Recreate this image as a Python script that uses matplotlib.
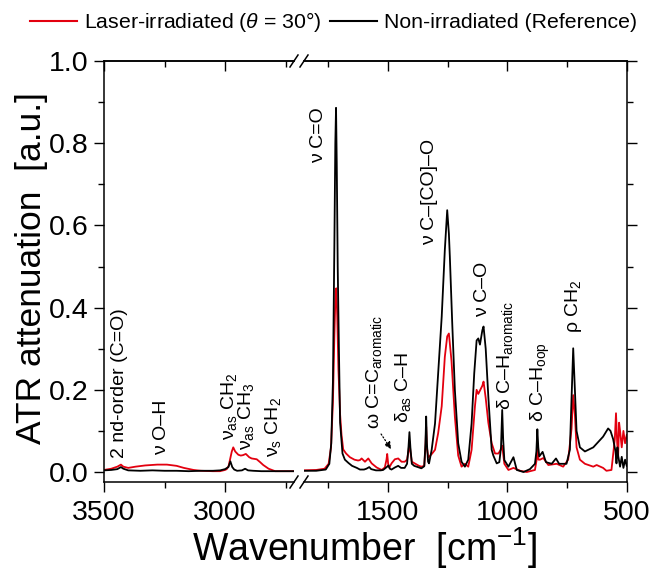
import numpy as np
import matplotlib.pyplot as plt
from matplotlib.lines import Line2D

plt.rcParams['font.family'] = ['Liberation Sans', 'DejaVu Sans']
plt.rcParams['mathtext.fontset'] = 'custom'
plt.rcParams['mathtext.rm'] = 'Liberation Sans'
plt.rcParams['mathtext.it'] = 'Liberation Sans:italic'

# reference (non-irradiated) spectrum
ref_wn = [3500, 3470, 3445, 3430, 3420, 3400, 3350, 3300, 3250, 3200, 3150, 3100, 3050,
          3020, 3000, 2986, 2978, 2970, 2962, 2950, 2930, 2917, 2905, 2884, 2850, 2800,
          2750, 2700,
          1860, 1800, 1760, 1745, 1737, 1730, 1724, 1720, 1717, 1714, 1710, 1705, 1700,
          1690, 1680, 1665, 1650, 1630, 1617, 1600, 1590, 1578, 1570, 1550, 1530, 1520,
          1505, 1498, 1492, 1485, 1471, 1457, 1445, 1430, 1420, 1414, 1410, 1406, 1400,
          1390, 1375, 1360, 1348, 1343, 1340, 1337, 1332, 1328, 1317, 1303, 1290, 1275,
          1262, 1252, 1245, 1241, 1231, 1220, 1206, 1192, 1178, 1164, 1150, 1139, 1129,
          1122, 1115, 1105, 1100, 1091, 1080, 1066, 1059, 1045, 1034, 1027, 1022, 1018,
          1013, 996, 975, 961, 933, 906, 885, 879, 875, 871, 867, 853, 839, 815, 797,
          784, 753, 739, 732, 725, 718, 711, 697, 676, 641, 600, 579, 569, 558, 548,
          544, 540, 537, 529, 522, 515, 508, 501]
ref_abs = [0.004, 0.005, 0.007, 0.012, 0.008, 0.004, 0.003, 0.004, 0.003, 0.003, 0.002, 0.003, 0.003,
           0.004, 0.007, 0.012, 0.026, 0.012, 0.006, 0.003, 0.004, 0.008, 0.004, 0.003, 0.002, 0.002,
           0.002, 0.002,
           0.003, 0.003, 0.006, 0.02, 0.07, 0.22, 0.55, 0.8, 0.886, 0.75, 0.5, 0.3, 0.12,
           0.045, 0.03, 0.022, 0.015, 0.01, 0.006, 0.006, 0.008, 0.012, 0.007, 0.004, 0.004, 0.005,
           0.012, 0.016, 0.008, 0.006, 0.011, 0.015, 0.01, 0.01, 0.02, 0.06, 0.097, 0.06, 0.02,
           0.015, 0.012, 0.009, 0.014, 0.07, 0.135, 0.07, 0.025, 0.021, 0.054, 0.118, 0.24, 0.378,
           0.54, 0.637, 0.58, 0.524, 0.362, 0.2, 0.07, 0.025, 0.013, 0.03, 0.118, 0.24, 0.32,
           0.325, 0.31, 0.345, 0.354, 0.3, 0.183, 0.054, 0.04, 0.021, 0.024, 0.06, 0.151, 0.08,
           0.029, 0.013, 0.036, 0.005, 0.0, 0.007, 0.02, 0.05, 0.104, 0.06, 0.038, 0.049, 0.024, 0.02, 0.033,
           0.02, 0.02, 0.054, 0.175, 0.301, 0.2, 0.1, 0.06, 0.05, 0.06, 0.086, 0.106, 0.1, 0.08, 0.05,
           0.021, 0.06, 0.04, 0.013, 0.037, 0.01, 0.03, 0.015]

# laser-irradiated spectrum
las_wn = [3500, 3470, 3445, 3430, 3420, 3400, 3370, 3330, 3280, 3240, 3200, 3170, 3130,
          3100, 3050, 3021, 3000, 2993, 2985, 2979, 2972, 2966, 2958, 2945, 2935, 2926,
          2914, 2900, 2890, 2869, 2855, 2842, 2820, 2793, 2750, 2700,
          1860, 1800, 1765, 1748, 1738, 1730, 1724, 1719, 1716, 1712, 1707, 1700, 1694,
          1687, 1675, 1659, 1640, 1625, 1617, 1610, 1596, 1582, 1568, 1547, 1526, 1513,
          1506, 1503, 1499, 1494, 1485, 1471, 1457, 1443, 1430, 1420, 1414, 1410, 1406,
          1400, 1385, 1370, 1360, 1348, 1343, 1340, 1337, 1331, 1315, 1303, 1290, 1275,
          1262, 1252, 1245, 1234, 1220, 1206, 1192, 1178, 1164, 1150, 1136, 1129, 1122,
          1105, 1100, 1091, 1080, 1066, 1052, 1038, 1026, 1022, 1017, 1013, 996, 975,
          947, 919, 885, 878, 875, 870, 864, 850, 829, 794, 767, 746, 732, 725, 718,
          711, 697, 676, 641, 627, 600, 586, 565, 551, 546, 541, 537, 533, 529, 522,
          515, 508, 501]
las_abs = [0.005, 0.008, 0.013, 0.018, 0.013, 0.01, 0.013, 0.016, 0.018, 0.018, 0.015, 0.01, 0.005,
           0.003, 0.002, 0.002, 0.005, 0.007, 0.015, 0.031, 0.05, 0.06, 0.05, 0.042, 0.04, 0.041,
           0.044, 0.036, 0.033, 0.031, 0.024, 0.017, 0.008, 0.002, 0.002, 0.002,
           0.004, 0.005, 0.008, 0.02, 0.06, 0.17, 0.33, 0.44, 0.447, 0.38, 0.25, 0.14, 0.09,
           0.055, 0.045, 0.036, 0.03, 0.028, 0.029, 0.033, 0.025, 0.033, 0.021, 0.011, 0.005, 0.011,
           0.03, 0.044, 0.02, 0.011, 0.021, 0.031, 0.033, 0.025, 0.025, 0.03, 0.05, 0.075, 0.05,
           0.025, 0.02, 0.015, 0.013, 0.015, 0.06, 0.11, 0.06, 0.035, 0.045, 0.054, 0.094, 0.16,
           0.28, 0.33, 0.337, 0.27, 0.135, 0.04, 0.013, 0.02, 0.013, 0.054, 0.16, 0.2, 0.19,
           0.21, 0.22, 0.18, 0.12, 0.07, 0.045, 0.045, 0.056, 0.064, 0.04, 0.02, 0.005, 0.01,
           0.003, 0.0, 0.005, 0.03, 0.056, 0.03, 0.03, 0.034, 0.017, 0.02, 0.013, 0.03, 0.105, 0.187, 0.14,
           0.06, 0.03, 0.02, 0.013, 0.017, 0.01, 0.003, 0.005, 0.08, 0.143, 0.07, 0.04, 0.12, 0.1, 0.06,
           0.1, 0.07, 0.09]

# band labels: text, wavenumber, bottom of label (a.u.)
band_text = ['2 nd-order (C=O)', 'ν O–H', r'ν$_\mathregular{as}$ CH$_\mathregular{2}$',
             r'ν$_\mathregular{as}$ CH$_\mathregular{3}$', r'ν$_\mathregular{s}$ CH$_\mathregular{2}$',
             'ν C=O', r'ω C=C$_\mathregular{aromatic}$', r'δ$_\mathregular{as}$ C–H',
             'ν C–[CO]–O', 'ν C–O', r'δ C–H$_\mathregular{aromatic}$',
             r'δ C–H$_\mathregular{oop}$', r'ρ CH$_\mathregular{2}$']
band_wn = [3434, 3264, 2985, 2912, 2800, 1789, 1560, 1438, 1324, 1103, 1012, 862, 722]
band_y = [0.034, 0.041, 0.078, 0.054, 0.036, 0.752, 0.105, 0.12, 0.552, 0.377, 0.151, 0.122, 0.338]

W, H = 652, 570
fig = plt.figure(figsize=(W / 100, H / 100), dpi=100)

y_top, y_bot = 61, 482
x_left, x_brk1, x_brk2, x_right = 104, 294, 304, 627
ax1 = fig.add_axes([x_left / W, 1 - y_bot / H, (x_brk1 - x_left) / W, (y_bot - y_top) / H])
ax2 = fig.add_axes([x_brk2 / W, 1 - y_bot / H, (x_right - x_brk2) / W, (y_bot - y_top) / H])

for ax, lim in [(ax1, (3500, 2715)), (ax2, (1851, 500))]:
    ax.plot(las_wn, las_abs, color='#e3000f', lw=1.3)
    ax.plot(ref_wn, ref_abs, color='black', lw=1.3)
    ax.set_xlim(*lim)
    ax.set_ylim(-0.0243, 1.0)
    for s in ax.spines.values():
        s.set_linewidth(1.1)
    ax.tick_params(which='both', labelsize=20.5, width=1.0, direction='out',
                   top=False, right=True)
    ax.tick_params(which='major', length=7, pad=4)
    ax.tick_params(which='minor', length=4)
    ax.tick_params(axis='x', which='major', pad=6)
    ax.set_yticks(np.arange(0, 1.01, 0.2))
    ax.set_yticks(np.arange(0.1, 1.0, 0.2), minor=True)

ax1.spines['right'].set_visible(False)
ax2.spines['left'].set_visible(False)
ax1.tick_params(axis='y', which='both', right=False)
ax2.tick_params(axis='y', which='both', left=False, labelleft=False)
ax1.yaxis.set_major_formatter(plt.FormatStrFormatter('%.1f'))

ax1.set_xticks([3500, 3000])
ax1.set_xticks([3250, 2750], minor=True)
ax2.set_xticks([1500, 1000, 500])
ax2.set_xticks([1750, 1250, 750], minor=True)

# top ticks point inward
for ax, major, minor in [(ax1, [3500, 3000], [3250, 2750]), (ax2, [1500, 1000, 500], [1750, 1250, 750])]:
    sec = ax.secondary_xaxis('top')
    sec.set_xticks(major)
    sec.set_xticks(minor, minor=True)
    sec.tick_params(which='both', direction='in', labeltop=False, width=1.0)
    sec.tick_params(which='major', length=7)
    sec.tick_params(which='minor', length=4)
    sec.spines['top'].set_linewidth(1.1)

# break marks
for yp in (y_top, y_bot):
    for xp in (x_brk1, x_brk2):
        fig.add_artist(Line2D([(xp - 4) / W, (xp + 4) / W], [1 - (yp + 6) / H, 1 - (yp - 6) / H],
                              color='black', lw=1.1))

# band labels
for txt, wn, yb in zip(band_text, band_wn, band_y):
    ax = ax1 if wn > 2000 else ax2
    ax.text(wn, yb, txt, rotation=90, ha='center', va='bottom', fontsize=14)

ax2.annotate('', xy=(1480, 0.05), xytext=(1535, 0.098),
             arrowprops=dict(arrowstyle='-|>', linestyle=':', color='black', lw=0.9,
                             mutation_scale=10))

fig.text(365 / W, 1 - 548 / H, r'Wavenumber  [cm$^{-1}$]', ha='center', va='center', fontsize=27)
fig.text(32 / W, 1 - 268 / H, 'ATR attenuation  [a.u.]', ha='center', va='center',
         rotation=90, fontsize=25.5)

handles = [Line2D([], [], color='#e3000f', lw=1.5), Line2D([], [], color='black', lw=1.5)]
fig.legend(handles, [r'Laser-irradiated ($\it{\theta}$ = 30°)', 'Non-irradiated (Reference)'],
           loc='center', bbox_to_anchor=(0.512, 1 - 22 / H), ncol=2, frameon=False,
           fontsize=15.3, handlelength=2.2, handletextpad=0.35, columnspacing=0.4)

fig.savefig('out.png', dpi=100)
